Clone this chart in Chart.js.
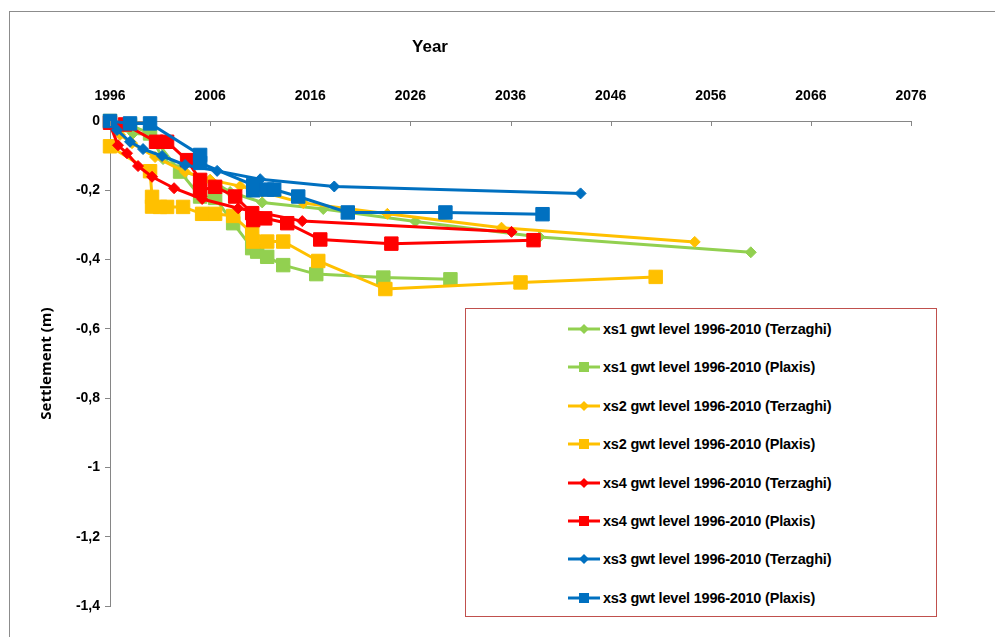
<!DOCTYPE html>
<html>
<head>
<meta charset="utf-8">
<script src="https://cdn.jsdelivr.net/npm/chart.js@4.4.1/dist/chart.umd.min.js"></script>
<style>
html, body { margin: 0; padding: 0; background: #fff; }
#wrap { position: relative; width: 995px; height: 637px; overflow: hidden; }
#frame { position: absolute; left: 9px; top: 11px; width: 1000px; height: 700px; border: 1px solid #8c8c8c; }
#chart { position: absolute; left: 0; top: 0; }
#legend { position: absolute; left: 465px; top: 308px; width: 472px; height: 309px; border: 1px solid #c0504d; box-sizing: border-box; background: #fff; }
.item { position: absolute; left: 102px; height: 20px; display: flex; align-items: center; white-space: nowrap;
        font: bold 14.5px "Liberation Sans Narrow", "Liberation Sans", Arial, sans-serif; color: #000; letter-spacing: -0.2px; }
.item svg { margin-right: 3px; }
</style>
</head>
<body>
<div id="wrap">
  <div id="frame"></div>
  <canvas id="chart" width="995" height="637"></canvas>
  <div id="legend"></div>
</div>
<script>
// axis ticks
const xTicks = [1996, 2006, 2016, 2026, 2036, 2046, 2056, 2066, 2076];
const yTicks = [0, -0.2, -0.4, -0.6, -0.8, -1, -1.2, -1.4];

// xs1
const xs1TerzYears  = [1996, 1997, 1998.3, 2000, 2001.3, 2003.2, 2006, 2008, 2011.2, 2017.3, 2026.5, 2038.9, 2060];
const xs1TerzValues = [0, -0.02, -0.036, -0.038, -0.11, -0.145, -0.17, -0.205, -0.235, -0.254, -0.29, -0.335, -0.379];
const xs1PlaxYears  = [1996, 1998, 2000, 2003, 2005, 2006.5, 2008.3, 2010.2, 2010.7, 2011.7, 2013.3, 2016.6, 2023.3, 2030];
const xs1PlaxValues = [0, -0.012, -0.036, -0.146, -0.218, -0.222, -0.295, -0.367, -0.377, -0.392, -0.416, -0.442, -0.452, -0.457];

// xs2
const xs2TerzYears  = [1996, 1997, 1998.2, 2000.5, 2003.5, 2006, 2009, 2011.2, 2015.3, 2023.7, 2035.1, 2054.4];
const xs2TerzValues = [-0.01, -0.04, -0.064, -0.104, -0.147, -0.17, -0.188, -0.205, -0.237, -0.268, -0.308, -0.349];
const xs2PlaxYears  = [1996, 2000, 2000.2, 2000.2, 2001, 2001.7, 2003.3, 2005.2, 2006.5, 2008.3, 2010.2, 2010.3, 2011.7, 2013.3, 2016.8, 2023.5, 2037, 2050.5];
const xs2PlaxValues = [-0.073, -0.145, -0.219, -0.247, -0.248, -0.248, -0.248, -0.268, -0.268, -0.274, -0.324, -0.348, -0.348, -0.348, -0.404, -0.485, -0.466, -0.45];

// xs4
const xs4TerzYears  = [1996, 1996.8, 1997.7, 1998.8, 2000.2, 2002.4, 2005.2, 2008.8, 2015.2, 2036.1];
const xs4TerzValues = [-0.01, -0.07, -0.093, -0.13, -0.161, -0.194, -0.225, -0.252, -0.289, -0.32];
const xs4PlaxYears  = [1996, 1997.5, 2000.6, 2001.7, 2003.7, 2005, 2005, 2006.5, 2008.5, 2010.2, 2010.3, 2011.5, 2013.7, 2017, 2024.1, 2038.3];
const xs4PlaxValues = [-0.005, -0.01, -0.06, -0.06, -0.113, -0.17, -0.2, -0.19, -0.218, -0.266, -0.286, -0.281, -0.295, -0.342, -0.354, -0.344];

// xs3
const xs3TerzYears  = [1996, 1996.7, 1998, 1999.3, 2001.2, 2003.5, 2006.7, 2011, 2018.4, 2043];
const xs3TerzValues = [0, -0.026, -0.06, -0.081, -0.101, -0.127, -0.144, -0.168, -0.189, -0.209];
const xs3PlaxYears  = [1996, 1998, 2000, 2005, 2005, 2010.3, 2010.3, 2011.7, 2012.4, 2014.8, 2019.75, 2029.5, 2039.2];
const xs3PlaxValues = [0, -0.007, -0.007, -0.098, -0.121, -0.185, -0.2, -0.198, -0.198, -0.218, -0.264, -0.264, -0.269];

const green = '#92d050', yellow = '#ffc000', red = '#ff0000', blue = '#0070c0';
const labelFont = '"Liberation Sans Narrow", "Liberation Sans", Arial, sans-serif';

function series(label, years, values, color, plaxis) {
    return {
        label: label,
        data: years.map((x, i) => ({ x: x, y: values[i] })),
        borderColor: color,
        backgroundColor: color,
        borderWidth: 3,
        pointStyle: plaxis ? 'rect' : 'rectRot',
        pointRadius: plaxis ? 9.5 : 5.5,
        pointBorderWidth: 1,
        tension: 0,
        clip: false
    };
}

const datasets = [
    series('xs1 gwt level 1996-2010 (Terzaghi)', xs1TerzYears, xs1TerzValues, green, false),
    series('xs1 gwt level 1996-2010 (Plaxis)', xs1PlaxYears, xs1PlaxValues, green, true),
    series('xs2 gwt level 1996-2010 (Terzaghi)', xs2TerzYears, xs2TerzValues, yellow, false),
    series('xs2 gwt level 1996-2010 (Plaxis)', xs2PlaxYears, xs2PlaxValues, yellow, true),
    series('xs4 gwt level 1996-2010 (Terzaghi)', xs4TerzYears, xs4TerzValues, red, false),
    series('xs4 gwt level 1996-2010 (Plaxis)', xs4PlaxYears, xs4PlaxValues, red, true),
    series('xs3 gwt level 1996-2010 (Terzaghi)', xs3TerzYears, xs3TerzValues, blue, false),
    series('xs3 gwt level 1996-2010 (Plaxis)', xs3PlaxYears, xs3PlaxValues, blue, true)
];
// later series are drawn on top, like the original
datasets.forEach((d, i) => { d.order = datasets.length - i; });

// "Year" sits off-centre above the axis; x tick marks point down into the plot
const axisExtras = {
    id: 'axisExtras',
    afterDraw(chart) {
        const c = chart.ctx;
        const xs = chart.scales.x;
        c.save();
        c.strokeStyle = '#868686';
        c.lineWidth = 1;
        xTicks.forEach(v => {
            const px = Math.round(xs.getPixelForValue(v)) + 0.5;
            c.beginPath();
            c.moveTo(px, xs.bottom);
            c.lineTo(px, xs.bottom + 5);
            c.stroke();
        });
        c.font = 'bold 17px ' + labelFont;
        c.fillStyle = '#000';
        c.textAlign = 'center';
        c.textBaseline = 'middle';
        c.fillText('Year', 430, 47);
        c.restore();
    }
};

const chart = new Chart(document.getElementById('chart'), {
    type: 'line',
    data: { datasets: datasets },
    options: {
        responsive: false,
        animation: false,
        layout: { padding: { left: 0, top: 0, right: 84, bottom: 31 } },
        plugins: { legend: { display: false }, tooltip: { enabled: false } },
        scales: {
            x: {
                type: 'linear',
                position: 'top',
                min: 1996,
                max: 2076,
                afterBuildTicks: s => { s.ticks = xTicks.map(v => ({ value: v })); },
                afterFit: s => { s.height = 121; },
                grid: { drawOnChartArea: false, drawTicks: false, color: '#868686' },
                border: { color: '#868686' },
                ticks: {
                    color: '#000', padding: 16, maxRotation: 0,
                    font: { family: labelFont, weight: 'bold', size: 14 },
                    callback: v => String(v)
                }
            },
            y: {
                min: -1.4,
                max: 0,
                afterBuildTicks: s => { s.ticks = yTicks.map(v => ({ value: v })); },
                afterFit: s => { s.width = 110; },
                grid: { drawOnChartArea: false, tickLength: 5, color: '#868686' },
                border: { color: '#868686' },
                ticks: {
                    color: '#000', padding: 5,
                    font: { family: labelFont, weight: 'bold', size: 14 },
                    callback: v => String(+v.toFixed(1)).replace('.', ',')
                },
                title: {
                    display: true,
                    text: 'Settlement (m)',
                    color: '#000',
                    font: { family: '"Open Sans", sans-serif', weight: 'bold', size: 15 },
                    padding: { top: 38, bottom: 0 }
                }
            }
        }
    },
    plugins: [axisExtras]
});

// legend box built from the datasets
const legend = document.getElementById('legend');
chart.data.datasets.forEach((d, i) => {
    const item = document.createElement('div');
    item.className = 'item';
    item.style.top = (10 + i * 38.4) + 'px';
    const marker = d.pointStyle === 'rect'
        ? '<rect x="11" y="5" width="10" height="10" fill="' + d.borderColor + '"/>'
        : '<polygon points="16,5 21,10 16,15 11,10" fill="' + d.borderColor + '"/>';
    item.innerHTML = '<svg width="32" height="20"><line x1="0" y1="10" x2="32" y2="10" stroke="' +
        d.borderColor + '" stroke-width="3"/>' + marker + '</svg><span>' + d.label + '</span>';
    legend.appendChild(item);
});
</script>
</body>
</html>
